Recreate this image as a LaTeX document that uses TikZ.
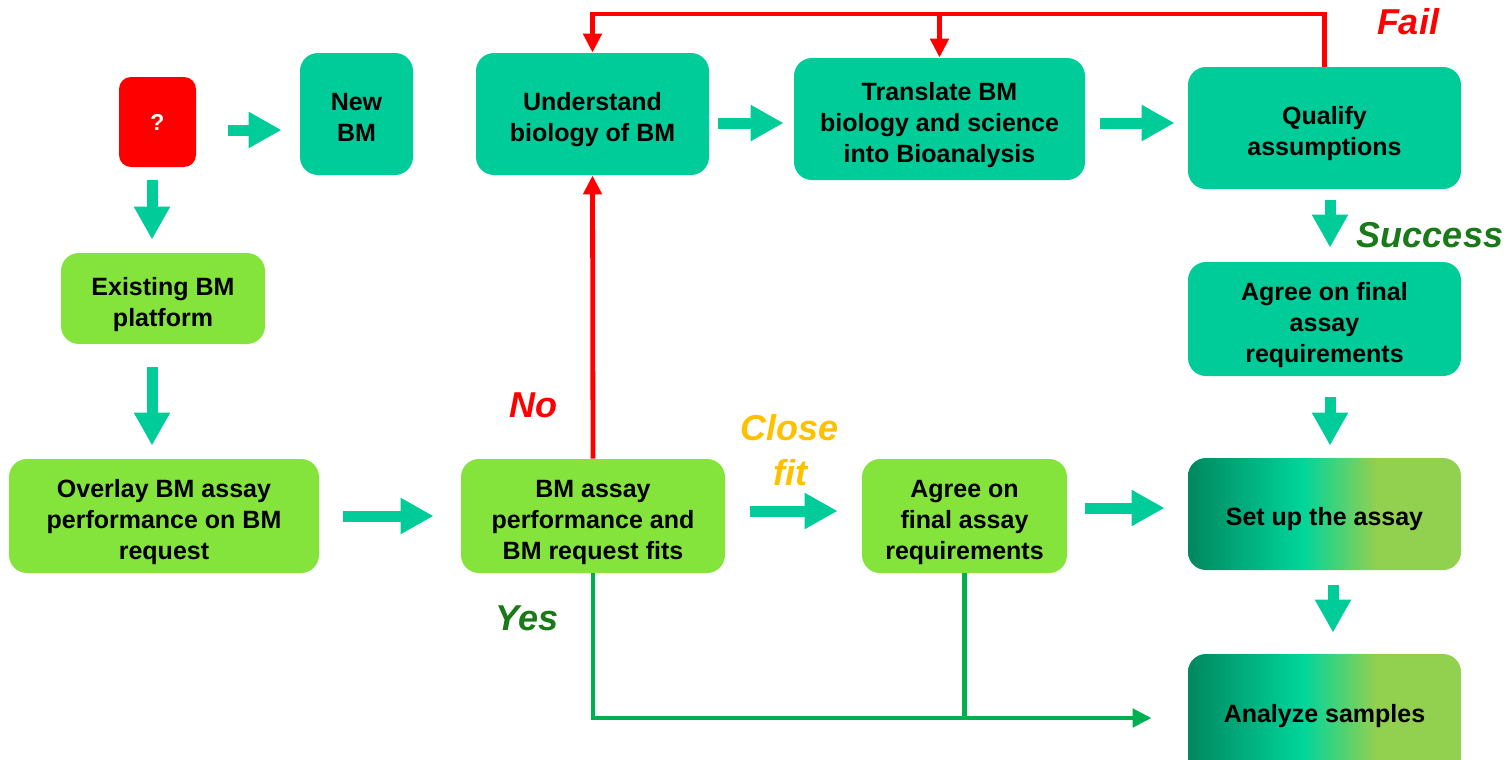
\documentclass[tikz,border=0pt]{standalone}
\usepackage{fontspec}
\setmainfont{Liberation Sans}
\usetikzlibrary{arrows.meta}

\definecolor{bmteal}{HTML}{00CC99}
\definecolor{bmlime}{HTML}{84E43C}
\definecolor{bmred}{HTML}{FF0000}
\definecolor{bmgreen}{HTML}{00B050}
\definecolor{bmdark}{HTML}{1A7A1A}
\definecolor{bmgold}{HTML}{FFC000}
\definecolor{gradA}{HTML}{00875F}
\definecolor{gradB}{HTML}{00D59A}
\definecolor{gradC}{HTML}{92D050}

% left-to-right shading: dark green, bright teal, then lime
\pgfdeclarehorizontalshading{bmgrad}{100bp}{color(0bp)=(gradA); color(25bp)=(gradA);
  color(46bp)=(gradB); color(59.5bp)=(gradC); color(75bp)=(gradC); color(100bp)=(gradC)}

\tikzset{
  box/.style={rounded corners=9pt, align=center, inner sep=0pt, text=black,
    text depth=0pt, text height=11.5pt,
    font=\bfseries\fontsize{12.5}{15.5}\selectfont},
  twolines/.style={text height=27.6pt},
  threelines/.style={text height=43.1pt},
  tealbox/.style={box, fill=bmteal},
  limebox/.style={box, fill=bmlime},
  gradbox/.style={box, shading=bmgrad},
  qbox/.style={rounded corners=6pt, fill=bmred, text=white, inner sep=0pt,
    font=\bfseries\fontsize{11.5}{13}\selectfont},
  blk/.style={draw=bmteal, line width=5.5pt, -{Triangle[width=17pt,length=16.5pt]}},
  redln/.style={draw=bmred, line width=2.4pt, line join=miter},
  redarr/.style={redln, -{Triangle[width=9pt,length=9.5pt]}},
  grnln/.style={draw=bmgreen, line width=2.4pt, line join=miter},
  lbl/.style={font=\bfseries\itshape\fontsize{18}{22.5}\selectfont, inner sep=0pt, align=center},
}

\begin{document}
\begin{tikzpicture}[x=0.5pt,y=-0.5pt]
\clip (0,0) rectangle (1512,760);

% boxes
\node[qbox, minimum width=38.5pt, minimum height=45pt] (q) at (157.5,122) {?};
\node[tealbox, twolines, minimum width=56.5pt, minimum height=61pt] (newbm) at (356.5,114) {New\\BM};
\node[tealbox, twolines, minimum width=116.5pt, minimum height=61pt] (under) at (592.5,114) {Understand\\biology of BM};
\node[tealbox, threelines, minimum width=145.5pt, minimum height=61pt] (trans) at (939.5,119) {Translate BM\\biology and science\\into Bioanalysis};
\node[tealbox, twolines, minimum width=136.5pt, minimum height=61pt] (qual) at (1324.5,128) {Qualify\\assumptions};
\node[tealbox, threelines, minimum width=136.5pt, minimum height=57pt] (agree1) at (1324.5,319) {Agree on final\\assay\\requirements};
\node[limebox, twolines, minimum width=102pt, minimum height=45.5pt] (exist) at (163,298.5) {Existing BM\\platform};
\node[limebox, threelines, minimum width=155pt, minimum height=57pt] (overlay) at (164,516) {Overlay BM assay\\performance on BM\\request};
\node[limebox, threelines, minimum width=132pt, minimum height=57pt] (fits) at (593,516) {BM assay\\performance and\\BM request fits};
\node[limebox, threelines, minimum width=102.5pt, minimum height=57pt] (agree2) at (964.5,516) {Agree on\\final assay\\requirements};
\node[gradbox, minimum width=136.5pt, minimum height=56pt] (setup) at (1324.5,514) {Set up the assay};
% runs past the lower edge of the page
\node[gradbox, text height=6.5pt, minimum width=136.5pt, minimum height=62pt] (analyze) at (1324.5,716) {Analyze samples};

% block arrows
\draw[blk, shorten <=16pt, shorten >=9pt] (q.east |- 0,130) -- (newbm.west |- 0,130);
\draw[blk, shorten <=6.5pt, shorten >=6.5pt] (q.south -| 152,0) -- (exist.north -| 152,0);
\draw[blk, shorten <=11.5pt, shorten >=6.5pt] (exist.south -| 152,0) -- (overlay.north -| 152,0);
\draw[blk, shorten <=12pt, shorten >=13.5pt] (overlay.east |- 0,516) -- (fits.west |- 0,516);
\draw[blk, shorten <=12.5pt, shorten >=12pt] (fits.east |- 0,511) -- (agree2.west |- 0,511);
\draw[blk, shorten <=9pt, shorten >=11.5pt] (agree2.east |- 0,508) -- (setup.west |- 0,508);
\draw[blk, shorten <=4.5pt, shorten >=5pt] (under.east |- 0,123) -- (trans.west |- 0,123);
\draw[blk, shorten <=7.5pt, shorten >=6.5pt] (trans.east |- 0,123) -- (qual.west |- 0,123);
\draw[blk, shorten <=5.5pt, shorten >=7pt] (qual.south -| 1330,0) -- (agree1.north -| 1330,0);
\draw[blk, shorten <=10.5pt, shorten >=6pt] (agree1.south -| 1330,0) -- (setup.north -| 1330,0);
\draw[blk, shorten <=7.5pt, shorten >=10.5pt] (setup.south -| 1333,0) -- (analyze.north -| 1333,0);

% fail / no feedback loops
\draw[redarr] (qual.north) |- (under.north |- 0,14) -- (under.north);
\draw[redarr] (trans.north |- 0,14) -- (trans.north);
\draw[redarr] (fits.north) -- (under.south);

% yes path to analysis
\draw[grnln, -{Triangle[width=9pt,length=9.5pt]}, shorten >=18pt] (fits.south) |- (analyze.west |- 0,718);
\draw[grnln] (agree2.south) -- (agree2.south |- 0,718);

% decision labels
\node[lbl, text=bmred] (fail) at (1408,22) {Fail};
\node[lbl, text=bmdark] (success) at (1430,235) {Success};
\node[lbl, text=bmred] (no) at (533,405) {No};
\node[lbl, text=bmgold] (close) at (790,450) {Close\\fit};
\node[lbl, text=bmdark] (yes) at (527,618) {Yes};
\end{tikzpicture}
\end{document}
